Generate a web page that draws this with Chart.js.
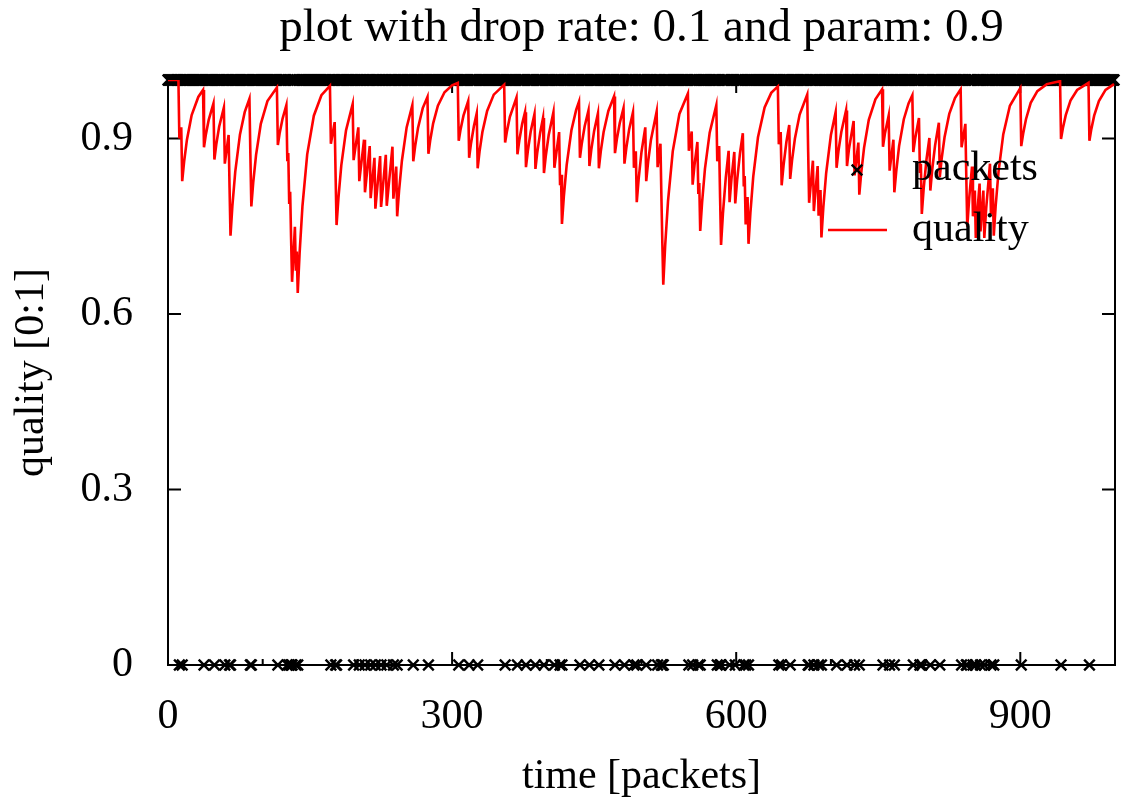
<!DOCTYPE html>
<html>
<head>
<meta charset="utf-8">
<script src="https://cdn.jsdelivr.net/npm/chart.js@4"></script>
<style>
html,body{margin:0;padding:0;background:#fff;}
#wrap{width:1129px;height:808px;}
</style>
</head>
<body>
<div id="wrap"><canvas id="c" width="1129" height="808"></canvas></div>
<script>
// ---- data ----
const titleText = 'plot with drop rate: 0.1 and param: 0.9';
const xAxisTitle = 'time [packets]';
const yAxisTitle = 'quality [0:1]';
const seriesNames = ['packets', 'quality'];

const xMajorTicks = [0, 300, 600, 900];
const xMinorTicks = [100, 200, 400, 500, 700, 800];
const yMajorTicks = [0, 0.3, 0.6, 0.9];
const yTickLabels = ['0', '0.3', '0.6', '0.9'];

const packetCount = 1000;
// time positions of dropped packets (drawn at 0); all other packets are drawn at 1
const droppedPackets = [12,15,38,49,60,65,66,87,88,116,126,128,130,131,135,137,172,177,178,
  196,202,208,214,219,225,231,238,242,259,275,307,318,327,356,369,378,388,397,408,414,416,
  435,445,455,472,482,492,495,505,517,521,522,523,550,554,560,562,580,583,584,593,599,608,
  610,613,645,648,657,676,677,682,687,690,706,717,725,730,755,762,767,787,794,796,805,815,
  838,843,844,850,853,858,862,869,872,901,943,973];

// quality curve: [time, quality] points
const qualityPoints = [[0,1],[11,1],[12,.900],[14,.919],[15,.827],[17,.860],[20,.898],[25,.940],[32,.971],[37,.983],
[38,.885],[40,.907],[43,.932],[48,.960],[49,.864],[51,.890],[54,.920],[59,.953],[60,.857],[64,.906],[65,.816],[66,.734],
[68,.785],[71,.843],[76,.907],[81,.945],[86,.968],[87,.871],[88,.784],[90,.825],[93,.872],[98,.925],[105,.964],[115,.987],
[116,.889],[118,.910],[121,.934],[125,.957],[126,.861],[127,.875],[128,.788],[129,.809],[130,.728],[131,.655],[134,.749],
[135,.674],[136,.707],[137,.636],[139,.705],[142,.785],[147,.873],[154,.939],[162,.974],[171,.990],[172,.891],[176,.928],
[177,.835],[178,.752],[180,.799],[183,.854],[188,.914],[195,.959],[196,.863],[201,.919],[202,.827],[207,.898],[208,.808],
[213,.887],[214,.798],[218,.867],[219,.780],[224,.870],[225,.783],[230,.872],[231,.785],[237,.886],[238,.797],[241,.852],
[242,.767],[244,.811],[247,.862],[252,.919],[258,.957],[259,.861],[261,.887],[264,.918],[269,.952],[274,.971],[275,.874],
[277,.898],[280,.926],[285,.956],[292,.979],[300,.991],[306,.995],[307,.896],[309,.916],[312,.939],[317,.964],[318,.867],
[320,.892],[323,.921],[326,.943],[327,.849],[329,.878],[332,.911],[337,.947],[344,.975],[355,.992],[356,.893],[358,.913],
[361,.937],[368,.970],[369,.873],[371,.897],[374,.925],[377,.945],[378,.851],[380,.879],[383,.912],[387,.942],[388,.848],
[390,.877],[393,.910],[396,.935],[397,.841],[399,.871],[402,.906],[407,.945],[408,.850],[413,.911],[414,.820],[415,.838],
[416,.754],[418,.801],[421,.855],[426,.914],[431,.949],[434,.963],[435,.867],[437,.892],[440,.921],[444,.948],[445,.853],
[447,.881],[450,.913],[454,.943],[455,.849],[457,.878],[460,.911],[465,.947],[471,.972],[472,.875],[474,.899],[477,.926],
[481,.952],[482,.857],[484,.884],[487,.916],[491,.945],[492,.850],[494,.878],[495,.791],[497,.831],[500,.877],[504,.919],
[505,.827],[507,.860],[510,.898],[516,.946],[517,.851],[520,.891],[521,.802],[522,.722],[523,.650],[525,.717],[528,.793],
[533,.878],[540,.942],[549,.977],[550,.879],[553,.912],[554,.821],[556,.855],[559,.894],[560,.805],[561,.824],[562,.742],
[564,.791],[567,.848],[572,.910],[579,.957],[580,.861],[582,.887],[583,.798],[584,.718],[586,.772],[589,.833],[592,.879],
[593,.791],[595,.831],[598,.877],[599,.789],[601,.829],[604,.875],[607,.909],[608,.818],[609,.836],[610,.753],[612,.800],
[613,.720],[615,.773],[618,.835],[623,.902],[630,.953],[637,.978],[644,.989],[645,.890],[647,.911],[648,.820],[650,.854],
[653,.894],[656,.923],[657,.831],[659,.863],[662,.900],[667,.941],[675,.975],[676,.877],[677,.790],[681,.862],[682,.776],
[686,.853],[687,.768],[689,.812],[690,.731],[692,.782],[695,.841],[700,.906],[705,.945],[706,.850],[708,.879],[711,.911],
[716,.948],[717,.853],[719,.881],[724,.930],[725,.837],[729,.893],[730,.804],[732,.841],[735,.884],[740,.932],[747,.967],
[754,.984],[755,.886],[757,.908],[761,.939],[762,.845],[766,.898],[767,.808],[769,.844],[772,.887],[777,.933],[782,.960],
[786,.974],[787,.877],[789,.900],[793,.935],[794,.841],[795,.857],[796,.771],[798,.815],[801,.865],[804,.901],[805,.811],
[807,.847],[810,.888],[814,.927],[815,.834],[817,.866],[820,.902],[825,.942],[831,.969],[837,.984],[838,.885],[842,.925],
[843,.832],[844,.749],[846,.797],[849,.852],[850,.767],[852,.811],[853,.730],[855,.781],[857,.823],[858,.741],[861,.811],
[862,.730],[864,.781],[868,.857],[869,.771],[871,.815],[872,.734],[874,.785],[877,.843],[882,.907],[889,.956],[900,.986],
[901,.887],[903,.908],[906,.933],[911,.961],[918,.981],[928,.993],[942,.998],[943,.899],[945,.918],[948,.940],[953,.965],
[960,.983],[972,.995],[973,.896],[975,.916],[978,.939],[983,.964],[990,.983],[999,.993]];

// ---- build the tables the library needs ----
const droppedSet = new Set(droppedPackets);
const packetData = [];
for (let t = 0; t < packetCount; t++) packetData.push({x: t, y: droppedSet.has(t) ? 0 : 1});
const qualityData = qualityPoints.map(p => ({x: p[0], y: p[1]}));

const FONT = '"Liberation Serif", "Times New Roman", serif';
const MAJOR = 13, MINOR = 6;

const framePlugin = {
  id: 'frame',
  beforeDatasetsDraw(chart) {
    const {ctx, chartArea: a, scales: {x, y}} = chart;
    ctx.save();
    ctx.strokeStyle = '#000';
    ctx.lineWidth = 2;
    ctx.beginPath();
    xMajorTicks.forEach(v => {
      const px = x.getPixelForValue(v);
      ctx.moveTo(px, a.bottom); ctx.lineTo(px, a.bottom - MAJOR);
      ctx.moveTo(px, a.top); ctx.lineTo(px, a.top + MAJOR);
    });
    xMinorTicks.forEach(v => {
      const px = x.getPixelForValue(v);
      ctx.moveTo(px, a.bottom); ctx.lineTo(px, a.bottom - MINOR);
      ctx.moveTo(px, a.top); ctx.lineTo(px, a.top + MINOR);
    });
    yMajorTicks.forEach(v => {
      const py = y.getPixelForValue(v);
      ctx.moveTo(a.left, py); ctx.lineTo(a.left + MAJOR, py);
      ctx.moveTo(a.right, py); ctx.lineTo(a.right - MAJOR, py);
    });
    ctx.stroke();
    ctx.strokeRect(a.left, a.top, a.right - a.left, a.bottom - a.top);
    ctx.restore();
  },
  afterDraw(chart) {
    // plot title, centred over the plot area as gnuplot does
    const {ctx, chartArea: a} = chart;
    ctx.save();
    ctx.font = '47px ' + FONT;
    ctx.fillStyle = '#000';
    ctx.textAlign = 'center';
    ctx.textBaseline = 'middle';
    ctx.fillText(titleText, (a.left + a.right) / 2, 29);
    ctx.restore();
  }
};

const keyPlugin = {
  id: 'key',
  afterDatasetsDraw(chart) {
    const {ctx, chartArea: a} = chart;
    const textX = a.right - 203;
    const row1 = a.top + 90, row2 = a.top + 150;
    ctx.save();
    ctx.font = '42px ' + FONT;
    ctx.fillStyle = '#000';
    ctx.textAlign = 'left';
    ctx.textBaseline = 'middle';
    ctx.fillText(seriesNames[0], textX, row1 - 1);
    ctx.fillText(seriesNames[1], textX, row2);
    // packets sample marker
    ctx.strokeStyle = '#000';
    ctx.lineWidth = 2.4;
    Chart.helpers.drawPoint(ctx, {pointStyle: 'crossRot', radius: 7.5, borderWidth: 2.4}, a.right - 258, row1);
    // quality sample line
    ctx.beginPath();
    ctx.strokeStyle = '#ff0000';
    ctx.lineWidth = 2.6;
    ctx.moveTo(a.right - 287, row2);
    ctx.lineTo(a.right - 228, row2);
    ctx.stroke();
    ctx.restore();
  }
};

new Chart(document.getElementById('c'), {
  type: 'scatter',
  data: {
    datasets: [
      {
        label: seriesNames[1],
        type: 'line',
        data: qualityData,
        borderColor: '#ff0000',
        borderWidth: 2.6,
        pointRadius: 0,
        tension: 0,
        fill: false,
        order: 1
      },
      {
        label: seriesNames[0],
        data: packetData,
        showLine: false,
        pointStyle: 'crossRot',
        pointRadius: 7.5,
        pointBorderWidth: 2.4,
        borderColor: '#000',
        backgroundColor: '#000',
        pointBorderColor: '#000',
        clip: false,
        order: 2
      }
    ]
  },
  options: {
    responsive: false,
    maintainAspectRatio: false,
    devicePixelRatio: 1,
    animation: false,
    events: [],
    layout: {padding: {left: 0, right: 14, top: 80, bottom: 0}},
    plugins: {
      legend: {display: false},
      tooltip: {enabled: false},
      title: {display: false}
    },
    scales: {
      x: {
        type: 'linear',
        min: 0,
        max: 1000,
        grid: {display: false, drawTicks: false},
        border: {display: false},
        afterBuildTicks: s => { s.ticks = xMajorTicks.map(v => ({value: v})); },
        afterFit: s => { s.height = 143; },
        ticks: {
          color: '#000',
          font: {family: FONT, size: 42},
          padding: 27,
          maxRotation: 0,
          autoSkip: false,
          callback: v => String(v)
        },
        title: {
          display: true,
          text: xAxisTitle,
          color: '#000',
          font: {family: FONT, size: 42},
          padding: {top: 0, bottom: 6}
        }
      },
      y: {
        type: 'linear',
        min: 0,
        max: 1,
        grid: {display: false, drawTicks: false},
        border: {display: false},
        afterBuildTicks: s => { s.ticks = yMajorTicks.map(v => ({value: v})); },
        afterFit: s => { s.width = 168; },
        ticks: {
          color: '#000',
          font: {family: FONT, size: 42},
          padding: 35,
          autoSkip: false,
          callback: (v, i) => yTickLabels[i]
        },
        title: {
          display: true,
          text: yAxisTitle,
          color: '#000',
          font: {family: FONT, size: 42},
          padding: {top: 7, bottom: 0}
        }
      }
    }
  },
  plugins: [framePlugin, keyPlugin]
});
</script>
</body>
</html>
